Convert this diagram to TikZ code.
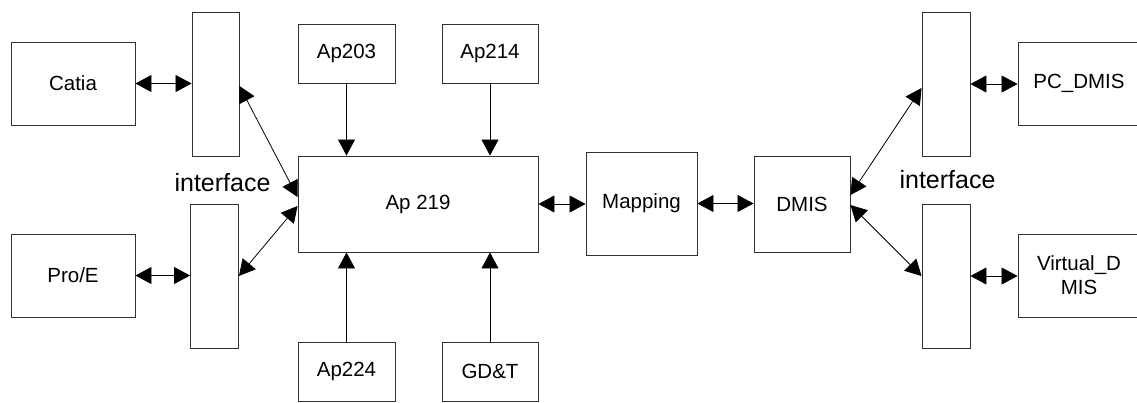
\documentclass[tikz,border=0pt]{standalone}
\usepackage{fontspec}
\setmainfont{Liberation Sans}
\usetikzlibrary{arrows.meta}
\begin{document}
\begin{tikzpicture}[x=1bp,y=-1bp,
  box/.style={draw=black!80,line width=0.9bp,inner sep=0pt,align=center,
    font=\fontsize{20.5bp}{24bp}\selectfont},
  lbl/.style={inner sep=0pt,anchor=base,font=\fontsize{25bp}{30bp}\selectfont},
  conn/.style={line width=0.8bp,black},
  tip/.style={-{Triangle[length=16bp,width=17bp]}},
  bitip/.style={{Triangle[length=16bp,width=17bp]}-{Triangle[length=16bp,width=17bp]}}]
\useasboundingbox (0,0) rectangle (1137,402);
% boxes
\node[box,minimum width=124bp,minimum height=83bp] (catia) at (73,83.5) {Catia};
\node[box,minimum width=124bp,minimum height=83bp] (proe) at (73,275.5) {Pro/E};
\node[box,minimum width=47bp,minimum height=144bp] (ifUL) at (215.5,84) {};
\node[box,minimum width=48bp,minimum height=144bp] (ifLL) at (214.5,276) {};
\node[box,minimum width=97bp,minimum height=59bp] (ap203) at (346.5,53.5) {Ap203};
\node[box,minimum width=96bp,minimum height=59bp] (ap214) at (490,53.5) {Ap214};
\node[box,minimum width=240bp,minimum height=96bp] (ap219) at (418,204) {Ap 219};
\node[box,minimum width=97bp,minimum height=59bp] (ap224) at (346.5,371.5) {Ap224};
\node[box,minimum width=96bp,minimum height=59bp] (gdt) at (490,371.5) {GD\&T};
\node[box,minimum width=111bp,minimum height=103bp] (mapping) at (641.5,203.5) {Mapping};
\node[box,minimum width=96bp,minimum height=96bp] (dmis) at (802,204) {DMIS};
\node[box,minimum width=48bp,minimum height=144bp] (ifUR) at (946,84) {};
\node[box,minimum width=48bp,minimum height=144bp] (ifLR) at (946,276) {};
\node[box,minimum width=122bp,minimum height=83bp] (pcdmis) at (1079,83.5) {PC\_DMIS};
\node[box,minimum width=122bp,minimum height=83bp] (vdmis) at (1079,275.5) {Virtual\_D\\MIS};
% labels
\node[lbl] (intL) at (222.5,191) {interface};
\node[lbl] (intR) at (947.5,188) {interface};
% connectors
\draw[conn,bitip] (catia.east) -- (catia.east -| ifUL.west);
\draw[conn,bitip] (proe.east) -- (proe.east -| ifLL.west);
\draw[conn,bitip] (ap219.east) -- (ap219.east -| mapping.west);
\draw[conn,bitip] (mapping.east) -- (mapping.east -| dmis.west);
\draw[conn,bitip] (ifUR.east) -- (ifUR.east -| pcdmis.west);
\draw[conn,bitip] (ifLR.east) -- (ifLR.east -| vdmis.west);
\draw[conn,tip] (ap203.south) -- (ap203.south |- ap219.north);
\draw[conn,tip] (ap214.south) -- (ap214.south |- ap219.north);
\draw[conn,tip] (ap224.north) -- (ap224.north |- ap219.south);
\draw[conn,tip] (gdt.north) -- (gdt.north |- ap219.south);
\draw[conn,bitip] ([yshift=-2bp]ifUL.east) -- ([yshift=7bp]ap219.west);
\draw[conn,bitip] (ifLL.east) -- ([yshift=-2bp]ap219.west);
\draw[conn,bitip] ([yshift=9bp]dmis.east) -- ([yshift=-4bp]ifUR.west);
\draw[conn,bitip] ([yshift=-1bp]dmis.east) -- (ifLR.west);
\end{tikzpicture}
\end{document}
